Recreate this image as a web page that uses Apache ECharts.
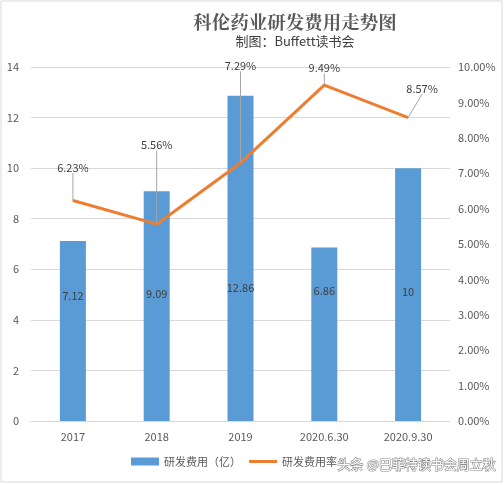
<!DOCTYPE html>
<html><head><meta charset="utf-8">
<script src="https://cdn.jsdelivr.net/npm/echarts@6/dist/echarts.min.js"></script>
<style>html,body{margin:0;padding:0;background:#fff}#c{width:504px;height:485px}</style>
</head><body><div id="c"></div>
<script>
const categories = ['2017','2018','2019','2020.6.30','2020.9.30'];
const rdExpense = [7.12, 9.09, 12.86, 6.86, 10];
const rdRate = [6.23, 5.56, 7.29, 9.49, 8.57];
const leftTicks = [0,2,4,6,8,10,12,14];
const rightTicks = [0,1,2,3,4,5,6,7,8,9,10];
// label offsets (style only)
const rateLabelShift = [[0,-23],[0,-69],[0,-87],[0,-7],[14,-19]];
const barLabelShift = [-115,-117,-123,-120,-119];

const chart = echarts.init(document.getElementById('c'));
const font = '"Microsoft YaHei","Noto Sans CJK SC","Noto Sans",sans-serif';
chart.setOption({
  backgroundColor:'#fff',
  animation:false,
  textStyle:{fontFamily:font},
  title:{
    text:'科伦药业研发费用走势图',
    subtext:'制图：Buffett读书会',
    left:290, top:8, textAlign:'center', itemGap:3,
    textStyle:{fontFamily:'"Noto Serif CJK SC","Noto Sans CJK SC",serif',fontSize:18.5,fontWeight:'bold',color:'#595959'},
    subtextStyle:{fontFamily:font,fontSize:13,color:'#404040'}
  },
  legend:{
    bottom:13, left:126, itemGap:8, itemWidth:28, itemHeight:8,
    textStyle:{fontSize:11,color:'#595959'},
    data:[{name:'研发费用（亿）',icon:'rect'},{name:'研发费用率',icon:'path://M0,4L28,4L28,7L0,7Z'}]
  },
  grid:{left:31, right:54, top:67, bottom:64},
  xAxis:{
    type:'category', data:categories,
    axisLine:{lineStyle:{color:'#d9d9d9'}}, axisTick:{show:false},
    axisLabel:{color:'#595959',fontSize:11,margin:10}
  },
  yAxis:[
    {type:'value',min:leftTicks[0],max:leftTicks[leftTicks.length-1],interval:2,
     axisLine:{show:false},axisTick:{show:false},
     axisLabel:{color:'#595959',fontSize:11,margin:12},
     splitLine:{lineStyle:{color:'#d9d9d9'}}},
    {type:'value',min:rightTicks[0],max:rightTicks[rightTicks.length-1],interval:1,
     axisLine:{show:false},axisTick:{show:false},
     axisLabel:{color:'#595959',fontSize:11,margin:8,formatter:v=>v.toFixed(2)+'%'},
     splitLine:{show:false}}
  ],
  series:[
    {name:'研发费用（亿）',type:'bar',data:rdExpense,barWidth:26,
     itemStyle:{color:'#5B9BD5'},
     label:{show:true,position:'insideBottom',distance:5,color:'#404040',fontSize:11},
     labelLayout:p=>({dy:barLabelShift[p.dataIndex]})},
    {name:'研发费用率',type:'line',yAxisIndex:1,data:rdRate,
     symbol:'circle',symbolSize:1,showSymbol:true,
     lineStyle:{color:'#ED7D31',width:3},itemStyle:{color:'#ED7D31'},
     label:{show:true,position:'top',distance:4,color:'#404040',fontSize:11,formatter:p=>p.value.toFixed(2)+'%'},
     labelLine:{show:true,lineStyle:{color:'#a6a6a6',width:1}},
     labelLayout:p=>({dx:rateLabelShift[p.dataIndex][0],dy:rateLabelShift[p.dataIndex][1]})}
  ],
  graphic:[
    {type:'rect',shape:{x:1,y:1,width:501,height:481},style:{fill:'none',stroke:'#d9d9d9',lineWidth:1},silent:true},
    {type:'text',left:337,top:457,style:{text:'头条 @巴菲特读书会周立秋',fill:'#fff',stroke:'#8c8c8c',lineWidth:1.2,fontSize:13,fontFamily:font},z:100}
  ]
});
</script></body></html>
